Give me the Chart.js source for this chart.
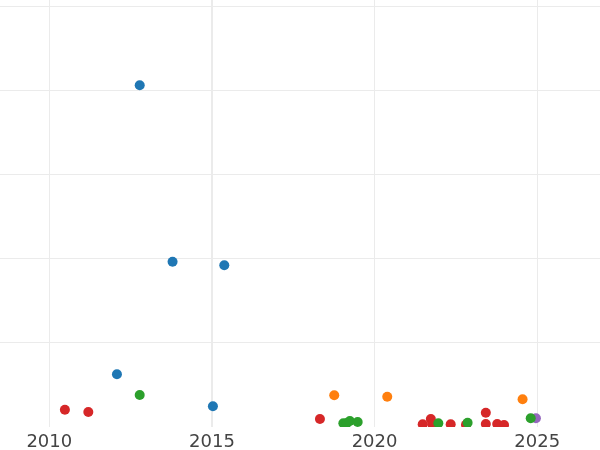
<!DOCTYPE html>
<html>
<head>
<meta charset="utf-8">
<script src="https://cdn.jsdelivr.net/npm/chart.js@4/dist/chart.umd.min.js"></script>
<style>
  html, body { margin: 0; padding: 0; background: #fff; }
  #wrap { width: 600px; height: 450px; }
</style>
</head>
<body>
<div id="wrap"><canvas id="myChart"></canvas></div>
<script>
// values: x = year, y = arbitrary units
var xTicks = [2010, 2015, 2020, 2025];
var yTicks = [0, 100, 200, 300, 400, 500];

var blueX = [2012.78, 2013.79, 2015.38, 2012.08, 2015.03];
var blueY = [406.8, 196.8, 192.5, 62.7, 24.6];

var orangeX = [2018.76, 2020.39, 2024.55];
var orangeY = [37.7, 36.1, 33.0];

var greenX = [2012.78, 2019.04, 2019.15, 2019.24, 2019.48, 2021.96, 2022.86, 2024.80];
var greenY = [38.1, 4.4, 4.8, 7.1, 6.0, 4.4, 5.1, 10.4];

var redX = [2010.48, 2011.20, 2018.32, 2021.48, 2021.73, 2021.77, 2022.34, 2022.81, 2023.42, 2023.42, 2023.77, 2023.98];
var redY = [20.6, 17.9, 9.5, 3.2, 9.5, 3.6, 3.2, 2.7, 17.0, 3.6, 3.6, 2.4];

var purpleX = [2024.96];
var purpleY = [10.4];

function pts(xs, ys) {
  return xs.map(function (x, i) { return {x: x, y: ys[i]}; });
}

function series(xs, ys, color) {
  return {
    data: pts(xs, ys),
    backgroundColor: color,
    borderColor: color,
    borderWidth: 0,
    pointRadius: 5,
    pointHoverRadius: 5
  };
}

var ctx = document.getElementById('myChart').getContext('2d');
var chart = new Chart(ctx, {
  type: 'scatter',
  data: {
    datasets: [
      series(blueX, blueY, '#1f77b4'),
      series(orangeX, orangeY, '#ff7f0e'),
      series(greenX, greenY, '#2ca02c'),
      series(redX, redY, '#d62728'),
      series(purpleX, purpleY, '#9467bd')
    ]
  },
  options: {
    responsive: true,
    maintainAspectRatio: false,
    animation: false,
    layout: { padding: 0, autoPadding: false },
    plugins: { legend: { display: false }, tooltip: { enabled: false } },
    scales: {
      x: {
        type: 'linear',
        min: 2008.485,
        max: 2026.93,
        afterBuildTicks: function (axis) {
          axis.ticks = xTicks.map(function (v) { return {value: v}; });
        },
        afterFit: function (axis) { axis.height = 23; },
        border: { display: false },
        grid: {
          drawTicks: false,
          color: '#ebebeb',
          lineWidth: function (c) { return c.tick && c.tick.value === 2015 ? 2 : 1; }
        },
        ticks: {
          padding: 5,
          color: '#444',
          font: { family: 'DejaVu Sans', size: 18 },
          callback: function (v) { return String(v); }
        }
      },
      y: {
        type: 'linear',
        min: 0,
        max: 508.3,
        afterBuildTicks: function (axis) {
          axis.ticks = yTicks.map(function (v) { return {value: v}; });
        },
        border: { display: false },
        grid: {
          drawTicks: false,
          color: function (c) { return c.tick && c.tick.value === 0 ? 'rgba(0,0,0,0)' : '#ebebeb'; }
        },
        ticks: { display: false }
      }
    }
  }
});
</script>
</body>
</html>
